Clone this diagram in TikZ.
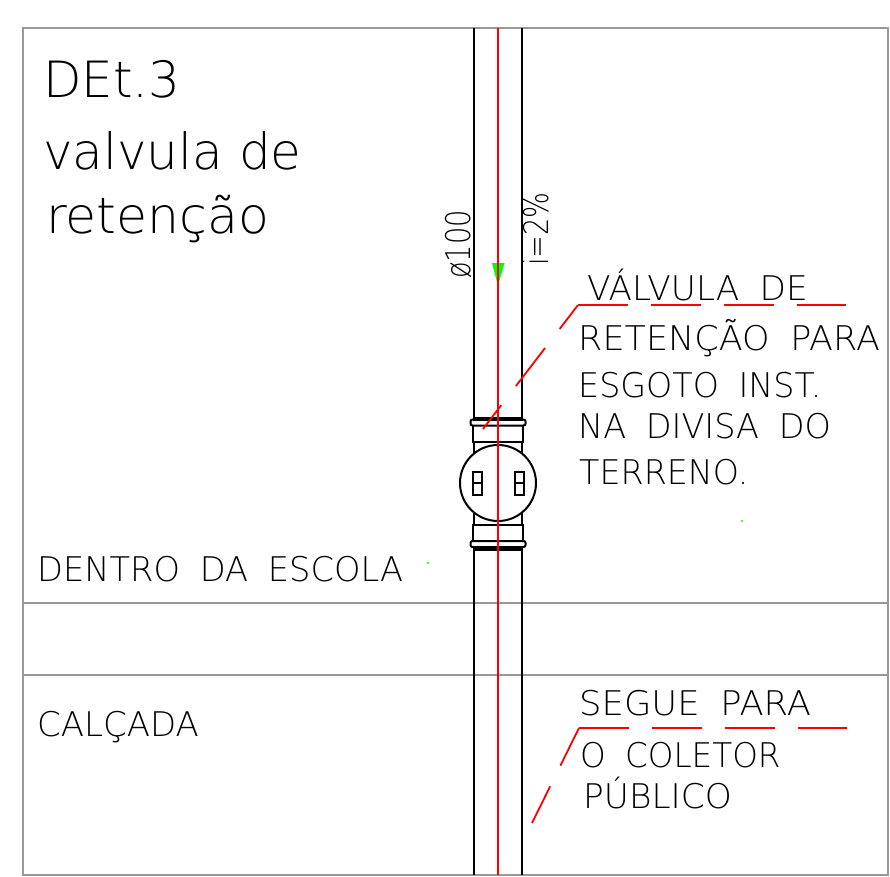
\documentclass[tikz,border=0pt]{standalone}
\usepackage{fontspec}
\setmainfont{DejaVu Sans ExtraLight}
\newfontfamily\cadfont[WordSpace=1.85]{DejaVu Sans ExtraLight}
\tikzset{
  cadtext/.style={anchor=base west,inner sep=0pt,font=\cadfont\fontsize{34}{34}\selectfont,transform shape},
  bigtext/.style={anchor=base west,inner sep=0pt,font=\fontsize{50}{50}\selectfont,transform shape},
  frameline/.style={draw=black!40,line width=2pt},
  pipeline/.style={draw=black,line width=2pt},
  fittingline/.style={draw=black,line width=2pt,fill=white},
  axisline/.style={draw=red,line width=1.4pt},
  leaderline/.style={draw=red,line width=1.8pt},
}
\begin{document}
\begin{tikzpicture}[x=1pt,y=-1pt]
\useasboundingbox (0,0) rectangle (890,876);
% frame and boundary lines
\coordinate (fa) at (23,28);
\coordinate (fb) at (888,875);
\coordinate (la) at (23,603);
\coordinate (lb) at (888,603);
\coordinate (lc) at (23,675);
\coordinate (ld) at (888,675);
\draw[frameline] (fa) rectangle (fb);
\draw[frameline] (la) -- (lb);
\draw[frameline] (lc) -- (ld);
% pipe
\coordinate (pa) at (474,28);
\coordinate (pb) at (474,875);
\coordinate (pc) at (521.5,28);
\coordinate (pd) at (521.5,875);
\draw[pipeline] (pa) -- (pb);
\draw[pipeline] (pc) -- (pd);
% valve body
\node (bodyt) at (498,433.5) [fittingline,minimum width=50pt,minimum height=17pt,inner sep=0pt] {};
\node (bodyb) at (498,533) [fittingline,minimum width=50pt,minimum height=16pt,inner sep=0pt] {};
\node (collart) at (498,422.5) [fittingline,rounded corners=2pt,minimum width=55pt,minimum height=6pt,inner sep=0pt] {};
\node (collarb) at (498,544) [fittingline,rounded corners=2pt,minimum width=55pt,minimum height=6pt,inner sep=0pt] {};
\node (bandt) at (498,418.5) [fill=black,minimum width=50pt,minimum height=4pt,inner sep=0pt] {};
\node (bandb) at (498,549) [fill=black,minimum width=50pt,minimum height=4pt,inner sep=0pt] {};
\node (valve) at (498,483) [shape=circle,fittingline,minimum size=76pt,inner sep=0pt] {};
\node (lugl) at (477,483) [pipeline,minimum width=9pt,minimum height=23pt,inner sep=0pt] {};
\node (lugr) at (519,483) [pipeline,minimum width=9pt,minimum height=23pt,inner sep=0pt] {};
\draw[pipeline] (lugl.west) -- (lugl.east);
\draw[pipeline] (lugr.west) -- (lugr.east);
% flow arrow and axis
\coordinate (fs) at (498,168);
\coordinate (fe) at (498,263);
\coordinate (fl) at (492,263);
\coordinate (fr) at (504.5,263);
\coordinate (ft) at (498,286);
\draw[green,line width=2pt] (fs) -- (fe);
\fill[green] (fl) -- (fr) -- (ft) -- cycle;
\coordinate (xa) at (498,28);
\coordinate (xb) at (498,875);
\draw[axisline] (xa) -- (xb);
% leaders
\coordinate (va) at (483,429);
\coordinate (vb) at (578,305);
\coordinate (vc) at (846,305);
\coordinate (sa) at (532,823);
\coordinate (sb) at (579,728);
\coordinate (sc) at (847,728);
\draw[leaderline,dash pattern=on 30pt off 24pt on 48pt off 24pt on 30pt] (va) -- (vb);
\draw[leaderline,dash pattern=on 50pt off 23pt] (vb) -- (vc);
\draw[leaderline,dash pattern=on 41pt off 23pt on 42pt off 100pt] (sa) -- (sb);
\draw[leaderline,dash pattern=on 50pt off 23pt] (sb) -- (sc);
% stray marks
\node (da) at (428,563) [circle,fill=green,inner sep=0.8pt] {};
\node (db) at (742,521) [circle,fill=green,inner sep=0.8pt] {};
% labels
\node (title) at (43,97) [bigtext] {DEt.3};
\node (titleb) at (43,169) [bigtext] {valvula de};
\node (titlec) at (46,233) [bigtext,xscale=1.01] {retenção};
\node (inside) at (37,581) [cadtext,xscale=.99] {DENTRO DA ESCOLA};
\node (walk) at (37,736) [cadtext] {CALÇADA};
\node (ta) at (587,300) [cadtext,xscale=1.01] {VÁLVULA DE};
\node (tb) at (578,350) [cadtext,xscale=1.03] {RETENÇÃO PARA};
\node (tc) at (578,397) [cadtext,xscale=.98] {ESGOTO INST.};
\node (td) at (578,438) [cadtext,xscale=.985] {NA DIVISA DO};
\node (te) at (579,484) [cadtext,xscale=.98] {TERRENO.};
\node (tf) at (579,715) [cadtext,xscale=1.04] {SEGUE PARA};
\node (tg) at (580,767) [cadtext,xscale=.96] {O COLETOR};
\node (th) at (583,808) [cadtext,xscale=1.01] {PÚBLICO};
\node (dia) at (470,279) [cadtext,rotate=90,xscale=.8] {ø100};
\node (slope) at (548,266) [cadtext,rotate=90,xscale=.8] {i=2\%};
\end{tikzpicture}
\end{document}
